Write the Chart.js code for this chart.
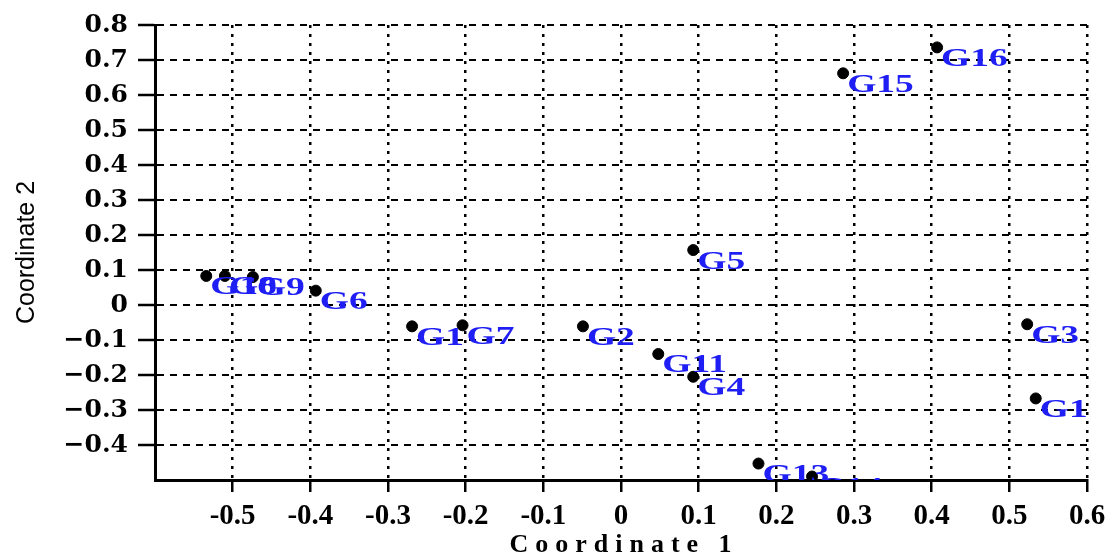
<!DOCTYPE html>
<html>
<head>
<meta charset="utf-8">
<script src="https://cdn.jsdelivr.net/npm/chart.js@4.4.1/dist/chart.umd.min.js"></script>
<style>
html,body{margin:0;padding:0;background:#fff;}
#wrap{width:1114px;height:556px;}
</style>
</head>
<body>
<div id="wrap"><canvas id="c" width="1114" height="556"></canvas></div>
<script>
// point names and coordinates
const names = ["G1","G2","G3","G4","G5","G6","G7","G8","G9","G10","G11","G12","G13","G14","G15","G16"];
const coord1 = [-0.269,-0.049,0.523,0.093,0.093,-0.393,-0.204,-0.510,-0.474,-0.534,0.048,0.534,0.177,0.246,0.286,0.407];
const coord2 = [-0.061,-0.061,-0.055,-0.205,0.157,0.041,-0.058,0.083,0.080,0.083,-0.140,-0.267,-0.453,-0.490,0.662,0.736];

const xTicks = [-0.6,-0.5,-0.4,-0.3,-0.2,-0.1,0,0.1,0.2,0.3,0.4,0.5,0.6];
const xTickLabels = ["","-0.5","-0.4","-0.3","-0.2","-0.1","0","0.1","0.2","0.3","0.4","0.5","0.6"];
const yTicks = [-0.5,-0.4,-0.3,-0.2,-0.1,0,0.1,0.2,0.3,0.4,0.5,0.6,0.7,0.8];
const yTickLabels = ["","\u22120.4","\u22120.3","\u22120.2","\u22120.1","0","0.1","0.2","0.3","0.4","0.5","0.6","0.7","0.8"];

const xTitle = "Coordinate 1";
const yTitle = "Coordinate 2";

const points = coord1.map((x,i)=>({x, y:coord2[i]}));

const pointLabels = {
  id:'pointLabels',
  afterDatasetsDraw(chart){
    const {ctx, chartArea:a} = chart;
    const meta = chart.getDatasetMeta(0);
    ctx.save();
    ctx.beginPath();
    ctx.rect(a.left, a.top, a.right-a.left, a.bottom-a.top);
    ctx.clip();
    ctx.fillStyle = '#1e1ef5';
    ctx.font = 'bold 25px "Liberation Serif"';
    ctx.textBaseline = 'middle';
    ctx.textAlign = 'left';
    meta.data.forEach((p,i)=>{
      ctx.save();
      ctx.translate(p.x+4, p.y+12);
      ctx.scale(1.5,1);
      ctx.fillText(names[i], 0, 0);
      ctx.restore();
    });
    ctx.restore();
  }
};

const xTitlePlugin = {
  id:'xTitle',
  afterDraw(chart){
    const {ctx, chartArea:a} = chart;
    ctx.save();
    ctx.font = 'bold 26px "Liberation Serif"';
    ctx.fillStyle = '#000';
    ctx.textAlign = 'center';
    ctx.textBaseline = 'middle';
    ctx.letterSpacing = '7px';
    ctx.fillText(xTitle, (a.left+a.right)/2 + 3, chart.height - 11);
    ctx.restore();
  }
};

const edgeTick = c => c.index === 0 ? 'rgba(0,0,0,0)' : '#000';

new Chart(document.getElementById('c'), {
  type:'scatter',
  data:{ datasets:[{
    data:points,
    backgroundColor:'#000',
    borderColor:'#000',
    pointRadius:5.5,
    pointHoverRadius:5.5
  }]},
  plugins:[pointLabels, xTitlePlugin],
  options:{
    responsive:false,
    animation:false,
    devicePixelRatio:1,
    layout:{ padding:{ top:19, right:27, bottom:0, left:0 } },
    plugins:{ legend:{display:false}, tooltip:{enabled:false} },
    scales:{
      x:{
        type:'linear', min:-0.6, max:0.6,
        afterBuildTicks: s => { s.ticks = xTicks.map(v=>({value:v})); },
        afterFit: s => { s.height = 76; },
        grid:{ color:'#000', lineWidth:2.5, tickLength:12, tickColor:edgeTick, tickWidth:2.5, tickBorderDash:[] },
        border:{ display:true, color:'#000', width:3, dash:[3,6] },
        ticks:{ color:'#000', font:{ family:'"Liberation Serif"', weight:'bold', size:29 }, padding:7,
          maxRotation:0, autoSkip:false, callback:(v,i)=>xTickLabels[i] }
      },
      y:{
        type:'linear', min:-0.5, max:0.8,
        afterBuildTicks: s => { s.ticks = yTicks.map(v=>({value:v})); },
        afterFit: s => { s.width = 155; },
        grid:{ color:'#000', lineWidth:2, tickLength:17, tickColor:edgeTick, tickWidth:2.5, tickBorderDash:[] },
        border:{ display:true, color:'#000', width:3, dash:[7,6] },
        ticks:{ color:'#000', font:{ family:'"DejaVu Serif"', weight:'bold', size:25 }, padding:10,
          autoSkip:false, callback:(v,i)=>yTickLabels[i] },
        title:{ display:true, text:yTitle, color:'#000',
          font:{ family:'"Liberation Sans"', size:25 }, padding:{ top:12, bottom:0 } }
      }
    }
  }
});
</script>
</body>
</html>
